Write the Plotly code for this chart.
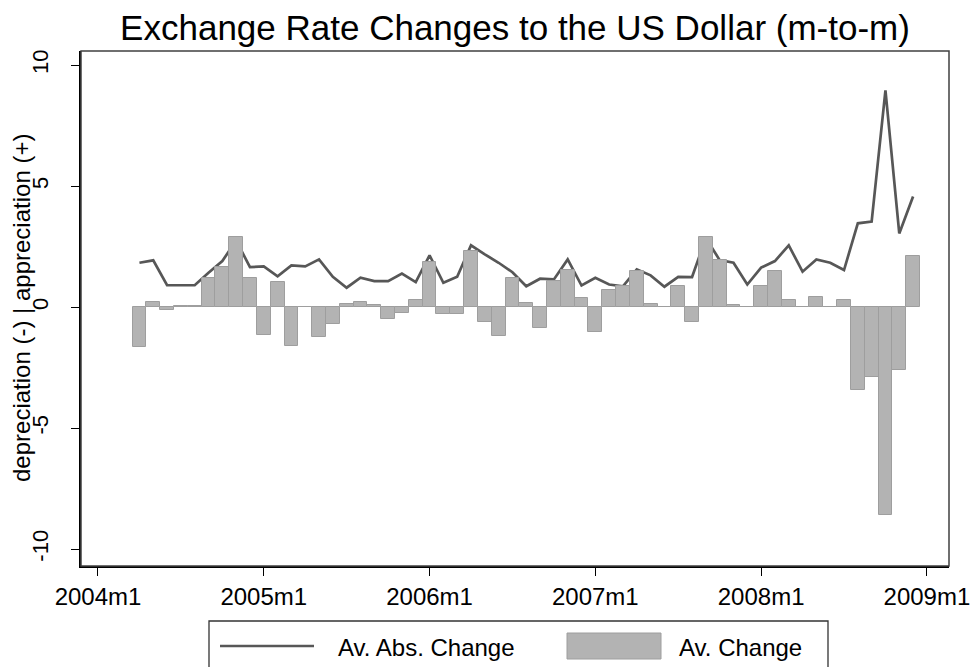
import plotly.graph_objects as go

# ---------------- data ----------------
months = [f"{y}m{m}" for y in range(2004, 2009) for m in range(1, 13)][3:]  # 2004m4 .. 2008m12

av_abs_change = [
    1.83, 1.93, 0.90, 0.90, 0.90, 1.42, 1.90, 2.75, 1.65,            # 2004m4-m12
    1.68, 1.27, 1.72, 1.68, 1.97, 1.25, 0.80, 1.21, 1.07, 1.07, 1.38, 1.03,  # 2005
    2.14, 1.00, 1.25, 2.55, 2.18, 1.83, 1.44, 0.86, 1.17, 1.14, 1.97, 0.89,  # 2006
    1.21, 0.93, 0.86, 1.56, 1.31, 0.84, 1.25, 1.24, 2.85, 1.94, 1.83, 0.93,  # 2007
    1.63, 1.90, 2.55, 1.46, 1.97, 1.83, 1.53, 3.46, 3.53, 8.95, 3.04, 4.57,  # 2008
]

av_change = [
    -1.65, 0.20, -0.11, 0.03, 0.03, 1.22, 1.67, 2.90, 1.22,                 # 2004m4-m12
    -1.16, 1.04, -1.60, 0.00, -1.23, -0.72, 0.12, 0.22, 0.07, -0.50, -0.24, 0.29,  # 2005
    1.85, -0.30, -0.30, 2.32, -0.61, -1.20, 1.20, 0.17, -0.88, 1.07, 1.53, 0.37,   # 2006
    -1.05, 0.70, 0.86, 1.47, 0.13, 0.02, 0.89, -0.63, 2.90, 1.93, 0.07, 0.00,      # 2007
    0.89, 1.49, 0.31, 0.00, 0.42, 0.00, 0.31, -3.42, -2.90, -8.60, -2.59, 2.11,    # 2008
]

x_tick_labels = ["2004m1", "2005m1", "2006m1", "2007m1", "2008m1", "2009m1"]
y_tick_values = [-10, -5, 0, 5, 10]
y_tick_labels = ["-10", "-5", "0", "5", "10"]

# month index (0 = 2004m1), as Stata's %tm
t = [(int(s.split("m")[0]) - 2004) * 12 + int(s.split("m")[1]) - 1 for s in months]
x_tick_values = [(int(s.split("m")[0]) - 2004) * 12 for s in x_tick_labels]

# ---------------- styling ----------------
W, H = 973, 667
L, R, T, B = 81, 949, 51, 566
FONT = "Liberation Sans, Arial, sans-serif"
LINE_COL = "#575757"
BAR_COL = "#b3b3b3"
BAR_EDGE = "#9e9e9e"
XR = [-1.23, 61.6]
YR = [-10.7, 10.58]


def px(xp):
    return (xp - L) / (R - L)


def py(yp):
    return (B - yp) / (B - T)


fig = go.Figure()

fig.add_trace(go.Scatter(
    x=t, y=av_abs_change, mode="lines", name="Av. Abs. Change",
    line=dict(color=LINE_COL, width=2.7), xaxis="x", yaxis="y",
    showlegend=False,
))

fig.add_trace(go.Bar(
    x=t, y=av_change, name="Av. Change", width=1.0,
    marker=dict(color=BAR_COL, line=dict(color=BAR_EDGE, width=1)),
    xaxis="x2", yaxis="y2", showlegend=False,
))

axis_common = dict(
    showgrid=False, zeroline=False, ticks="outside", ticklen=8, tickwidth=1.3,
    tickcolor="black", showline=True, linecolor="black", linewidth=2,
    automargin=False,
)

fig.update_layout(
    width=W, height=H,
    margin=dict(l=L, r=W - R, t=T, b=H - B, pad=0, autoexpand=False),
    paper_bgcolor="white", plot_bgcolor="white",
    font=dict(family=FONT, color="black"),
    title=dict(
        text="Exchange Rate Changes to the US Dollar (m-to-m)",
        font=dict(family=FONT, size=35, color="black"),
        x=0.5, xref="paper", xanchor="center",
        y=1 - 27.5 / H, yref="container", yanchor="middle",
    ),
    xaxis=dict(range=XR, tickvals=x_tick_values, ticktext=x_tick_labels,
               tickfont=dict(family=FONT, size=24, color="black"), **axis_common),
    yaxis=dict(
        range=YR, tickvals=y_tick_values, ticktext=y_tick_labels, tickangle=-90,
        ticklabelstandoff=14, tickfont=dict(family=FONT, size=22, color="black"),
        **axis_common,
    ),
    xaxis2=dict(range=XR, overlaying="x", visible=False),
    yaxis2=dict(range=YR, overlaying="y", visible=False),
    bargap=0,
    showlegend=False,
)

# y axis title (rotated, like Stata)
fig.add_annotation(text="depreciation (-) | appreciation (+)", xref="paper", yref="paper",
                   x=px(21), y=py(308), xanchor="center", yanchor="middle", textangle=-90,
                   showarrow=False, font=dict(family=FONT, size=24, color="black"))

# plot region frame (top/right thin)
fig.add_shape(type="rect", xref="paper", yref="paper", x0=0, x1=1, y0=0, y1=1,
              line=dict(color="#404040", width=1.5), layer="above")

# legend box drawn like Stata's
fig.add_shape(type="rect", xref="paper", yref="paper",
              x0=px(209), x1=px(828), y0=py(621), y1=py(720),
              line=dict(color="#333333", width=1.3), fillcolor="rgba(0,0,0,0)")
fig.add_shape(type="line", xref="paper", yref="paper",
              x0=px(220), x1=px(314), y0=py(646), y1=py(646),
              line=dict(color=LINE_COL, width=2.7))
fig.add_shape(type="rect", xref="paper", yref="paper",
              x0=px(567), x1=px(661), y0=py(633), y1=py(659),
              line=dict(color=BAR_EDGE, width=1), fillcolor=BAR_COL)
fig.add_annotation(text="Av. Abs. Change", xref="paper", yref="paper",
                   x=px(336), y=py(647), xanchor="left", yanchor="middle",
                   showarrow=False, font=dict(family=FONT, size=24, color="black"))
fig.add_annotation(text="Av. Change", xref="paper", yref="paper",
                   x=px(677), y=py(647), xanchor="left", yanchor="middle",
                   showarrow=False, font=dict(family=FONT, size=24, color="black"))

fig.write_html("out.html", config={"displayModeBar": False},
               post_script="document.body.style.margin='0px';document.body.style.overflow='hidden';")
